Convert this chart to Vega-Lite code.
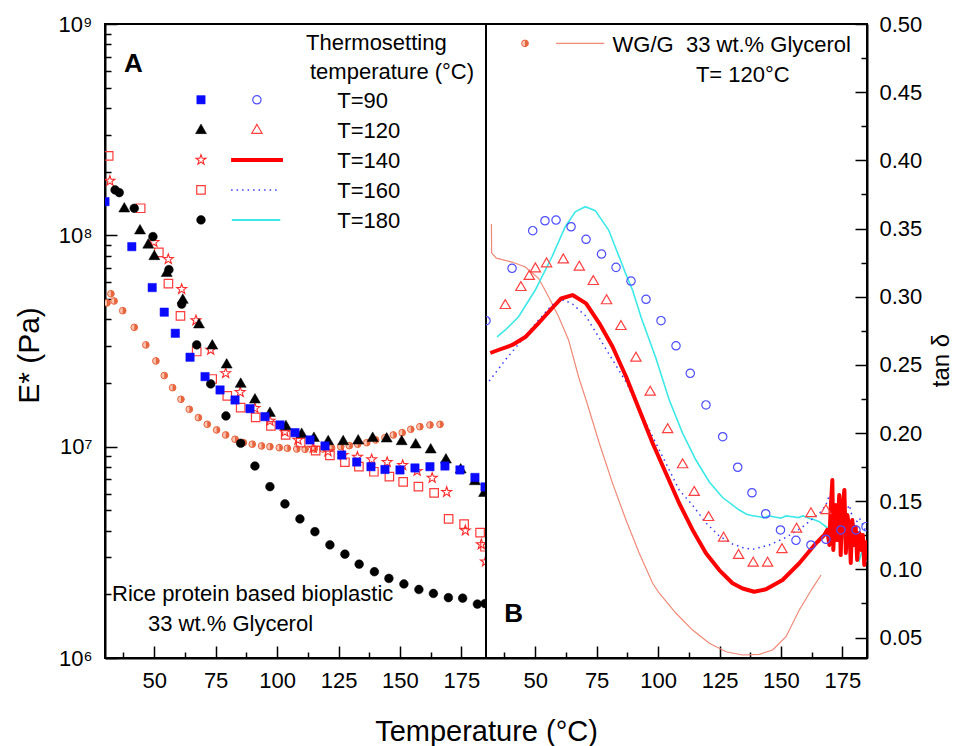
{
"$schema":"https://vega.github.io/schema/vega-lite/v6.json",
"background":"white",
"padding":{"left":13,"top":12,"right":0,"bottom":0},
"spacing":0,
"bounds":"flush",
"config":{
 "view":{"stroke":"black","strokeWidth":2,"fill":"white"},
 "font":"Liberation Sans",
 "axis":{"labelFont":"Liberation Sans","labelFontSize":22,"labelColor":"black","tickColor":"black","tickWidth":1.5,"domainColor":"black","domainWidth":2,"grid":false,"titleFont":"Liberation Sans","titleFontWeight":"normal","titleColor":"black","labelOverlap":false,"labelFlush":false},
 "text":{"font":"Liberation Sans","fontSize":22,"color":"black"}
},
"datasets":{
 "eA":[
  {"s":"T=90","T":30.0,"E":1.444e8},{"s":"T=90","T":40.9,"E":8.84e7},{"s":"T=90","T":49.2,"E":5.66e7},{"s":"T=90","T":54.1,"E":4.33e7},{"s":"T=90","T":58.6,"E":3.44e7},{"s":"T=90","T":64.6,"E":2.65e7},{"s":"T=90","T":70.7,"E":2.145e7},{"s":"T=90","T":76.8,"E":1.855e7},{"s":"T=90","T":82.9,"E":1.663e7},{"s":"T=90","T":89.0,"E":1.513e7},{"s":"T=90","T":95.1,"E":1.387e7},{"s":"T=90","T":101.2,"E":1.267e7},{"s":"T=90","T":107.3,"E":1.165e7},{"s":"T=90","T":113.4,"E":1.076e7},{"s":"T=90","T":119.5,"E":1.008e7},{"s":"T=90","T":126.3,"E":9.13e6},{"s":"T=90","T":132.4,"E":8.46e6},{"s":"T=90","T":138.2,"E":8.04e6},{"s":"T=90","T":143.9,"E":7.8e6},{"s":"T=90","T":150.0,"E":7.76e6},{"s":"T=90","T":156.1,"E":7.93e6},{"s":"T=90","T":162.2,"E":8.04e6},{"s":"T=90","T":168.3,"E":8.1e6},{"s":"T=90","T":174.4,"E":7.76e6},{"s":"T=90","T":180.5,"E":7.15e6},{"s":"T=90","T":184.6,"E":6.45e6},
  {"s":"T=120","T":37.85,"E":1.358e8},{"s":"T=120","T":44.24,"E":1.069e8},{"s":"T=120","T":47.6,"E":9.16e7},{"s":"T=120","T":50.06,"E":8.08e7},{"s":"T=120","T":55.1,"E":6.73e7},{"s":"T=120","T":61.65,"E":5.02e7},{"s":"T=120","T":68.24,"E":3.84e7},{"s":"T=120","T":73.65,"E":3.05e7},{"s":"T=120","T":79.5,"E":2.48e7},{"s":"T=120","T":85.2,"E":2.01e7},{"s":"T=120","T":91.0,"E":1.694e7},{"s":"T=120","T":97.1,"E":1.464e7},{"s":"T=120","T":103.6,"E":1.267e7},{"s":"T=120","T":110.0,"E":1.165e7},{"s":"T=120","T":115.0,"E":1.115e7},{"s":"T=120","T":120.8,"E":1.076e7},{"s":"T=120","T":126.9,"E":1.076e7},{"s":"T=120","T":133.0,"E":1.084e7},{"s":"T=120","T":138.9,"E":1.115e7},{"s":"T=120","T":144.6,"E":1.108e7},{"s":"T=120","T":150.7,"E":1.076e7},{"s":"T=120","T":156.4,"E":1.038e7},{"s":"T=120","T":162.5,"E":9.83e6},{"s":"T=120","T":168.7,"E":8.81e6},{"s":"T=120","T":174.7,"E":7.9e6},{"s":"T=120","T":180.5,"E":6.96e6},{"s":"T=120","T":184.2,"E":6.12e6},
  {"s":"T=140","T":32.0,"E":1.809e8},{"s":"T=140","T":49.9,"E":9.28e7},{"s":"T=140","T":55.75,"E":7.71e7},{"s":"T=140","T":61.2,"E":5.56e7},{"s":"T=140","T":67.0,"E":3.96e7},{"s":"T=140","T":73.0,"E":2.87e7},{"s":"T=140","T":79.1,"E":2.225e7},{"s":"T=140","T":85.0,"E":1.81e7},{"s":"T=140","T":91.0,"E":1.52e7},{"s":"T=140","T":97.1,"E":1.323e7},{"s":"T=140","T":103.2,"E":1.174e7},{"s":"T=140","T":108.5,"E":1.076e7},{"s":"T=140","T":114.7,"E":9.86e6},{"s":"T=140","T":120.7,"E":9.49e6},{"s":"T=140","T":126.9,"E":9.13e6},{"s":"T=140","T":132.7,"E":8.94e6},{"s":"T=140","T":138.5,"E":8.7e6},{"s":"T=140","T":144.8,"E":8.44e6},{"s":"T=140","T":151.1,"E":8.17e6},{"s":"T=140","T":157.0,"E":7.67e6},{"s":"T=140","T":163.1,"E":7.11e6},{"s":"T=140","T":169.0,"E":6.1e6},{"s":"T=140","T":176.6,"E":4.01e6},{"s":"T=140","T":183.1,"E":3.45e6},{"s":"T=140","T":184.8,"E":2.86e6},
  {"s":"T=160","T":31.5,"E":2.376e8},{"s":"T=160","T":44.5,"E":1.343e8},{"s":"T=160","T":51.9,"E":8.3e7},{"s":"T=160","T":55.8,"E":5.91e7},{"s":"T=160","T":60.7,"E":4.16e7},{"s":"T=160","T":67.3,"E":2.82e7},{"s":"T=160","T":73.6,"E":2.09e7},{"s":"T=160","T":79.75,"E":1.738e7},{"s":"T=160","T":85.2,"E":1.53e7},{"s":"T=160","T":91.3,"E":1.377e7},{"s":"T=160","T":97.5,"E":1.253e7},{"s":"T=160","T":103.5,"E":1.136e7},{"s":"T=160","T":109.6,"E":1.044e7},{"s":"T=160","T":115.7,"E":9.58e6},{"s":"T=160","T":121.5,"E":9.09e6},{"s":"T=160","T":127.6,"E":8.44e6},{"s":"T=160","T":133.3,"E":8.04e6},{"s":"T=160","T":139.4,"E":7.61e6},{"s":"T=160","T":145.7,"E":7.21e6},{"s":"T=160","T":151.3,"E":6.81e6},{"s":"T=160","T":157.5,"E":6.47e6},{"s":"T=160","T":163.9,"E":6.04e6},{"s":"T=160","T":169.8,"E":4.55e6},{"s":"T=160","T":176.1,"E":4.3e6},{"s":"T=160","T":182.6,"E":3.92e6},{"s":"T=160","T":184.6,"E":3.36e6},
  {"s":"T=180","T":34.1,"E":1.64e8},{"s":"T=180","T":35.8,"E":1.593e8},{"s":"T=180","T":41.9,"E":1.343e8},{"s":"T=180","T":49.5,"E":9.86e7},{"s":"T=180","T":56.0,"E":6.88e7},{"s":"T=180","T":61.2,"E":4.73e7},{"s":"T=180","T":67.3,"E":3.03e7},{"s":"T=180","T":73.0,"E":1.981e7},{"s":"T=180","T":79.2,"E":1.397e7},{"s":"T=180","T":85.2,"E":1.038e7},{"s":"T=180","T":91.0,"E":8.1e6},{"s":"T=180","T":97.1,"E":6.47e6},{"s":"T=180","T":103.2,"E":5.36e6},{"s":"T=180","T":109.3,"E":4.55e6},{"s":"T=180","T":115.4,"E":3.96e6},{"s":"T=180","T":121.5,"E":3.43e6},{"s":"T=180","T":127.6,"E":3.1e6},{"s":"T=180","T":133.4,"E":2.78e6},{"s":"T=180","T":139.6,"E":2.56e6},{"s":"T=180","T":145.5,"E":2.38e6},{"s":"T=180","T":151.6,"E":2.24e6},{"s":"T=180","T":157.7,"E":2.11e6},{"s":"T=180","T":163.6,"E":2.02e6},{"s":"T=180","T":169.7,"E":1.93e6},{"s":"T=180","T":175.5,"E":1.92e6},{"s":"T=180","T":181.5,"E":1.8e6},{"s":"T=180","T":184.6,"E":1.81e6},
  {"s":"WG/G","T":30.8,"E":4.79e7},{"s":"WG/G","T":32.4,"E":5.29e7},{"s":"WG/G","T":33.7,"E":4.89e7},{"s":"WG/G","T":37.2,"E":4.4e7},{"s":"WG/G","T":41.9,"E":3.67e7},{"s":"WG/G","T":46.6,"E":3.03e7},{"s":"WG/G","T":50.7,"E":2.545e7},{"s":"WG/G","T":54.1,"E":2.17e7},{"s":"WG/G","T":57.5,"E":1.902e7},{"s":"WG/G","T":60.9,"E":1.676e7},{"s":"WG/G","T":64.3,"E":1.503e7},{"s":"WG/G","T":68.0,"E":1.372e7},{"s":"WG/G","T":71.6,"E":1.276e7},{"s":"WG/G","T":75.4,"E":1.2e7},{"s":"WG/G","T":79.1,"E":1.136e7},{"s":"WG/G","T":82.9,"E":1.084e7},{"s":"WG/G","T":86.3,"E":1.044e7},{"s":"WG/G","T":89.9,"E":1.027e7},{"s":"WG/G","T":93.7,"E":1.008e7},{"s":"WG/G","T":97.1,"E":1.0e7},{"s":"WG/G","T":100.9,"E":9.89e6},{"s":"WG/G","T":104.2,"E":9.83e6},{"s":"WG/G","T":108.0,"E":9.75e6},{"s":"WG/G","T":111.4,"E":9.72e6},{"s":"WG/G","T":115.1,"E":9.75e6},{"s":"WG/G","T":118.6,"E":9.75e6},{"s":"WG/G","T":122.2,"E":9.86e6},{"s":"WG/G","T":125.9,"E":1.0e7},{"s":"WG/G","T":129.4,"E":1.011e7},{"s":"WG/G","T":132.8,"E":1.027e7},{"s":"WG/G","T":136.5,"E":1.044e7},{"s":"WG/G","T":140.1,"E":1.076e7},{"s":"WG/G","T":143.9,"E":1.103e7},{"s":"WG/G","T":147.3,"E":1.136e7},{"s":"WG/G","T":150.9,"E":1.165e7},{"s":"WG/G","T":154.4,"E":1.209e7},{"s":"WG/G","T":158.1,"E":1.243e7},{"s":"WG/G","T":162.2,"E":1.267e7},{"s":"WG/G","T":166.3,"E":1.276e7}
 ],
 "legS":[{"s":"T=90","T":69.05,"E":4.38e8},{"s":"T=120","T":69.05,"E":3.19e8},{"s":"T=140","T":69.05,"E":2.275e8},{"s":"T=160","T":69.05,"E":1.64e8},{"s":"T=180","T":69.05,"E":1.183e8}],
 "legT":[{"s":"T=90","T":91.8,"E":4.38e8},{"s":"T=120","T":91.8,"E":3.19e8}],
 "legL":[{"s":"T=140","T":81.3,"E":2.275e8},{"s":"T=140","T":102.4,"E":2.275e8},{"s":"T=160","T":81.3,"E":1.64e8},{"s":"T=160","T":100.9,"E":1.64e8},{"s":"T=180","T":81.6,"E":1.183e8},{"s":"T=180","T":101.3,"E":1.183e8}],
 "txtA":[{"label":"Thermosetting","T":111.8,"E":7.54e8},{"label":"temperature (°C)","T":113.4,"E":5.495e8},{"label":"T=90","T":124.5,"E":3.995e8},{"label":"T=120","T":124.5,"E":2.881e8},{"label":"T=140","T":124.5,"E":2.077e8},{"label":"T=160","T":124.5,"E":1.498e8},{"label":"T=180","T":124.5,"E":1.08e8},{"label":"Rice protein based bioplastic","T":32.85,"E":1.862e6},{"label":"33 wt.% Glycerol","T":47.5,"E":1.342e6}],
 "lblA":[{"label":"A","T":37.73,"E":5.953e8}],
 "tB":[
  {"s":"T=90","T":30.0,"tan":0.2824},{"s":"T=90","T":40.6,"tan":0.3208},{"s":"T=90","T":49.0,"tan":0.3484},{"s":"T=90","T":54.0,"tan":0.3557},{"s":"T=90","T":58.5,"tan":0.3562},{"s":"T=90","T":64.6,"tan":0.3513},{"s":"T=90","T":70.7,"tan":0.3421},{"s":"T=90","T":77.0,"tan":0.3313},{"s":"T=90","T":82.9,"tan":0.3215},{"s":"T=90","T":89.0,"tan":0.3115},{"s":"T=90","T":95.1,"tan":0.2981},{"s":"T=90","T":101.2,"tan":0.2824},{"s":"T=90","T":107.3,"tan":0.264},{"s":"T=90","T":113.1,"tan":0.2438},{"s":"T=90","T":119.5,"tan":0.2206},{"s":"T=90","T":126.3,"tan":0.1973},{"s":"T=90","T":132.4,"tan":0.1749},{"s":"T=90","T":138.2,"tan":0.1562},{"s":"T=90","T":143.8,"tan":0.1408},{"s":"T=90","T":149.8,"tan":0.1289},{"s":"T=90","T":156.1,"tan":0.1213},{"s":"T=90","T":162.2,"tan":0.1179},{"s":"T=90","T":168.3,"tan":0.1221},{"s":"T=90","T":174.4,"tan":0.1289},{"s":"T=90","T":180.5,"tan":0.1289},{"s":"T=90","T":184.6,"tan":0.1313},
  {"s":"T=120","T":37.85,"tan":0.2946},{"s":"T=120","T":44.2,"tan":0.3078},{"s":"T=120","T":47.6,"tan":0.3159},{"s":"T=120","T":50.1,"tan":0.3215},{"s":"T=120","T":54.65,"tan":0.3252},{"s":"T=120","T":61.45,"tan":0.3281},{"s":"T=120","T":67.95,"tan":0.3227},{"s":"T=120","T":73.65,"tan":0.3122},{"s":"T=120","T":79.05,"tan":0.2981},{"s":"T=120","T":84.9,"tan":0.2792},{"s":"T=120","T":91.0,"tan":0.256},{"s":"T=120","T":96.8,"tan":0.231},{"s":"T=120","T":103.9,"tan":0.2035},{"s":"T=120","T":110.0,"tan":0.1778},{"s":"T=120","T":114.7,"tan":0.1575},{"s":"T=120","T":120.55,"tan":0.1391},{"s":"T=120","T":126.65,"tan":0.124},{"s":"T=120","T":132.75,"tan":0.1113},{"s":"T=120","T":138.7,"tan":0.1056},{"s":"T=120","T":144.55,"tan":0.1056},{"s":"T=120","T":150.4,"tan":0.1155},{"s":"T=120","T":156.35,"tan":0.1306},{"s":"T=120","T":162.2,"tan":0.1419},{"s":"T=120","T":168.3,"tan":0.1441}
 ],
 "lB":[
  {"s":"T=140","T":31.75,"tan":0.2587},{"s":"T=140","T":35.0,"tan":0.2609},{"s":"T=140","T":40.7,"tan":0.2646},{"s":"T=140","T":46.0,"tan":0.2704},{"s":"T=140","T":51.3,"tan":0.2805},{"s":"T=140","T":56.85,"tan":0.2915},{"s":"T=140","T":60.6,"tan":0.2987},{"s":"T=140","T":65.2,"tan":0.3012},{"s":"T=140","T":70.7,"tan":0.2951},{"s":"T=140","T":76.1,"tan":0.2805},{"s":"T=140","T":81.5,"tan":0.2633},{"s":"T=140","T":87.0,"tan":0.2413},{"s":"T=140","T":92.4,"tan":0.2169},{"s":"T=140","T":97.8,"tan":0.1925},{"s":"T=140","T":103.2,"tan":0.1705},{"s":"T=140","T":108.6,"tan":0.1485},{"s":"T=140","T":114.05,"tan":0.1289},{"s":"T=140","T":119.5,"tan":0.1118},{"s":"T=140","T":124.9,"tan":0.0995},{"s":"T=140","T":130.3,"tan":0.0898},{"s":"T=140","T":134.4,"tan":0.086},{"s":"T=140","T":139.1,"tan":0.0836},{"s":"T=140","T":143.9,"tan":0.0854},{"s":"T=140","T":150.65,"tan":0.0922},{"s":"T=140","T":157.45,"tan":0.1045},{"s":"T=140","T":164.25,"tan":0.1191},{"s":"T=140","T":167.6,"tan":0.1252},{"s":"T=140","T":168.8,"tan":0.1289},{"s":"T=140","T":169.7,"tan":0.1179},{"s":"T=140","T":170.1,"tan":0.1399},{"s":"T=140","T":170.9,"tan":0.1655},{"s":"T=140","T":171.3,"tan":0.1142},{"s":"T=140","T":172.1,"tan":0.1472},{"s":"T=140","T":172.9,"tan":0.1215},{"s":"T=140","T":173.7,"tan":0.1545},{"s":"T=140","T":174.3,"tan":0.1105},{"s":"T=140","T":174.9,"tan":0.1435},{"s":"T=140","T":175.8,"tan":0.1582},{"s":"T=140","T":176.4,"tan":0.112},{"s":"T=140","T":177.0,"tan":0.1399},{"s":"T=140","T":177.8,"tan":0.1303},{"s":"T=140","T":178.4,"tan":0.1047},{"s":"T=140","T":179.0,"tan":0.1362},{"s":"T=140","T":179.8,"tan":0.1179},{"s":"T=140","T":180.4,"tan":0.1311},{"s":"T=140","T":181.0,"tan":0.1069},{"s":"T=140","T":181.9,"tan":0.1267},{"s":"T=140","T":182.7,"tan":0.1142},{"s":"T=140","T":183.3,"tan":0.1252},{"s":"T=140","T":183.9,"tan":0.1032},{"s":"T=140","T":184.6,"tan":0.1215},
  {"s":"T=160","T":31.3,"tan":0.2381},{"s":"T=160","T":37.85,"tan":0.2536},{"s":"T=160","T":44.65,"tan":0.2682},{"s":"T=160","T":51.4,"tan":0.2829},{"s":"T=160","T":56.85,"tan":0.2939},{"s":"T=160","T":61.6,"tan":0.2976},{"s":"T=160","T":65.2,"tan":0.2946},{"s":"T=160","T":70.6,"tan":0.2858},{"s":"T=160","T":76.1,"tan":0.2697},{"s":"T=160","T":81.5,"tan":0.2536},{"s":"T=160","T":87.0,"tan":0.2374},{"s":"T=160","T":92.4,"tan":0.2169},{"s":"T=160","T":97.8,"tan":0.1973},{"s":"T=160","T":103.2,"tan":0.1778},{"s":"T=160","T":108.6,"tan":0.1582},{"s":"T=160","T":114.05,"tan":0.147},{"s":"T=160","T":119.5,"tan":0.134},{"s":"T=160","T":124.9,"tan":0.1245},{"s":"T=160","T":130.3,"tan":0.1186},{"s":"T=160","T":134.4,"tan":0.116},{"s":"T=160","T":138.45,"tan":0.1147},{"s":"T=160","T":145.25,"tan":0.1179},{"s":"T=160","T":152.05,"tan":0.1234},{"s":"T=160","T":158.8,"tan":0.1311},{"s":"T=160","T":165.6,"tan":0.1411},{"s":"T=160","T":168.3,"tan":0.1472},{"s":"T=160","T":169.7,"tan":0.1545},{"s":"T=160","T":171.7,"tan":0.1435},{"s":"T=160","T":173.7,"tan":0.1509},{"s":"T=160","T":175.8,"tan":0.1399},{"s":"T=160","T":177.8,"tan":0.1472},{"s":"T=160","T":179.8,"tan":0.1325},{"s":"T=160","T":181.9,"tan":0.1377},{"s":"T=160","T":184.3,"tan":0.1289},
  {"s":"T=180","T":34.5,"tan":0.2706},{"s":"T=180","T":37.85,"tan":0.2756},{"s":"T=180","T":43.25,"tan":0.2853},{"s":"T=180","T":50.05,"tan":0.3049},{"s":"T=180","T":56.85,"tan":0.3293},{"s":"T=180","T":62.25,"tan":0.3513},{"s":"T=180","T":66.3,"tan":0.3623},{"s":"T=180","T":70.4,"tan":0.366},{"s":"T=180","T":74.45,"tan":0.3631},{"s":"T=180","T":79.9,"tan":0.3489},{"s":"T=180","T":86.65,"tan":0.3178},{"s":"T=180","T":89.6,"tan":0.3049},{"s":"T=180","T":93.2,"tan":0.2844},{"s":"T=180","T":99.1,"tan":0.255},{"s":"T=180","T":104.55,"tan":0.2242},{"s":"T=180","T":110.0,"tan":0.1998},{"s":"T=180","T":115.4,"tan":0.1802},{"s":"T=180","T":120.85,"tan":0.1641},{"s":"T=180","T":126.25,"tan":0.1527},{"s":"T=180","T":133.05,"tan":0.1435},{"s":"T=180","T":136.0,"tan":0.1405},{"s":"T=180","T":138.0,"tan":0.1395},{"s":"T=180","T":141.2,"tan":0.1386},{"s":"T=180","T":143.0,"tan":0.1378},{"s":"T=180","T":145.0,"tan":0.1392},{"s":"T=180","T":148.0,"tan":0.1382},{"s":"T=180","T":150.0,"tan":0.1376},{"s":"T=180","T":152.0,"tan":0.1392},{"s":"T=180","T":154.7,"tan":0.1386},{"s":"T=180","T":157.0,"tan":0.138},{"s":"T=180","T":159.0,"tan":0.1392},{"s":"T=180","T":161.5,"tan":0.1375},{"s":"T=180","T":163.0,"tan":0.1368},{"s":"T=180","T":165.6,"tan":0.135},{"s":"T=180","T":168.3,"tan":0.1313},{"s":"T=180","T":170.9,"tan":0.1289},{"s":"T=180","T":173.0,"tan":0.1347},{"s":"T=180","T":174.5,"tan":0.1215},{"s":"T=180","T":176.45,"tan":0.1252},{"s":"T=180","T":178.2,"tan":0.1142},{"s":"T=180","T":179.8,"tan":0.1215},{"s":"T=180","T":181.9,"tan":0.1069},{"s":"T=180","T":183.1,"tan":0.1142},{"s":"T=180","T":184.6,"tan":0.1054},
  {"s":"WG/G","T":32.2,"tan":0.3533},{"s":"WG/G","T":32.3,"tan":0.332},{"s":"WG/G","T":34.2,"tan":0.3283},{"s":"WG/G","T":40.6,"tan":0.3254},{"s":"WG/G","T":46.0,"tan":0.3218},{"s":"WG/G","T":51.4,"tan":0.3135},{"s":"WG/G","T":55.45,"tan":0.3},{"s":"WG/G","T":59.55,"tan":0.2853},{"s":"WG/G","T":63.6,"tan":0.2682},{"s":"WG/G","T":67.65,"tan":0.2413},{"s":"WG/G","T":71.1,"tan":0.222},{"s":"WG/G","T":76.1,"tan":0.1925},{"s":"WG/G","T":81.5,"tan":0.1631},{"s":"WG/G","T":86.95,"tan":0.1362},{"s":"WG/G","T":92.35,"tan":0.1118},{"s":"WG/G","T":97.8,"tan":0.0898},{"s":"WG/G","T":100.5,"tan":0.0825},{"s":"WG/G","T":107.3,"tan":0.0678},{"s":"WG/G","T":114.05,"tan":0.0555},{"s":"WG/G","T":120.85,"tan":0.0458},{"s":"WG/G","T":127.65,"tan":0.0396},{"s":"WG/G","T":134.4,"tan":0.0372},{"s":"WG/G","T":141.2,"tan":0.0377},{"s":"WG/G","T":146.6,"tan":0.0409},{"s":"WG/G","T":152.05,"tan":0.0506},{"s":"WG/G","T":157.45,"tan":0.0702},{"s":"WG/G","T":162.85,"tan":0.0863},{"s":"WG/G","T":166.3,"tan":0.0959}
 ],
 "legB":[{"s":"WG/G","T":45.87,"tan":0.4858}],
 "legBL":[{"s":"WG/G","T":58.5,"tan":0.4858},{"s":"WG/G","T":78.1,"tan":0.4858}],
 "txtB":[{"label":"WG/G\u00a0 33 wt.% Glycerol","T":81.5,"tan":0.4797},{"label":"T= 120°C","T":115.4,"tan":0.4577}],
 "lblB":[{"label":"B","T":37.45,"tan":0.0616}]
},
"hconcat":[
 {
  "width":381,"height":634,
  "encoding":{
   "x":{"field":"T","type":"quantitative","scale":{"domain":[30,185],"nice":false,"zero":false},
    "axis":{"values":[37.5,50,62.5,75,87.5,100,112.5,125,137.5,150,162.5,175],"labelExpr":"datum.value % 25 === 0 ? datum.label : ''","tickSize":{"condition":{"test":"datum.value % 25 === 0","value":-12},"value":-6},"labelPadding":24,"title":"Temperature (°C)","titleX":381,"titleFontSize":29,"titlePadding":20}},
   "y":{"field":"E","type":"quantitative","scale":{"type":"log","domain":[1e6,1e9],"nice":false},
    "axis":{"values":[1e6,2e6,3e6,4e6,5e6,6e6,7e6,8e6,9e6,1e7,2e7,3e7,4e7,5e7,6e7,7e7,8e7,9e7,1e8,2e8,3e8,4e8,5e8,6e8,7e8,8e8,9e8,1e9],
     "labelExpr":"abs(log(datum.value)/LN10-round(log(datum.value)/LN10))<0.001 ? '10' + ['⁰','¹','²','³','⁴','⁵','⁶','⁷','⁸','⁹'][round(log(datum.value)/LN10)] : ''",
     "tickSize":{"condition":{"test":"abs(log(datum.value)/LN10-round(log(datum.value)/LN10))<0.001","value":-12},"value":-6},
     "labelPadding":25,"title":"E* (Pa)","titleFontSize":30,"titlePadding":14,"titleY":331}}
  },
  "layer":[
   {"data":{"name":"eA"},"transform":[{"filter":"datum.s==='WG/G'"}],"mark":{"type":"point","shape":"circle","filled":true,"fill":"#f9c4b2","stroke":"#e8663f","strokeWidth":1,"size":45,"opacity":1,"clip":true}},
   {"data":{"name":"eA"},"transform":[{"filter":"datum.s==='WG/G'"}],"mark":{"type":"point","shape":"M0,-1A1,1,0,0,1,0,1Z","filled":true,"fill":"#e8663f","strokeWidth":0,"size":45,"opacity":1,"clip":true}},
   {"data":{"name":"eA"},"transform":[{"filter":"datum.s==='T=160'"}],"mark":{"type":"point","shape":"square","filled":false,"stroke":"#ff3b3b","strokeWidth":1.2,"size":72,"opacity":1,"clip":true}},
   {"data":{"name":"eA"},"transform":[{"filter":"datum.s==='T=140'"}],"mark":{"type":"point","shape":"M0,-1L0.235,-0.324L0.951,-0.309L0.38,0.124L0.588,0.809L0,0.4L-0.588,0.809L-0.38,0.124L-0.951,-0.309L-0.235,-0.324Z","filled":false,"stroke":"#ff2a2a","strokeWidth":1.1,"size":110,"opacity":1,"clip":true}},
   {"data":{"name":"eA"},"transform":[{"filter":"datum.s==='T=180'"}],"mark":{"type":"point","shape":"circle","filled":true,"fill":"#000000","stroke":"#000000","strokeWidth":0.5,"size":76,"opacity":1,"clip":true}},
   {"data":{"name":"eA"},"transform":[{"filter":"datum.s==='T=120'"}],"mark":{"type":"point","shape":"triangle-up","filled":true,"fill":"#000000","stroke":"#000000","strokeWidth":0.5,"size":121,"opacity":1,"clip":true}},
   {"data":{"name":"eA"},"transform":[{"filter":"datum.s==='T=90'"}],"mark":{"type":"point","shape":"square","filled":true,"fill":"#0a0aff","stroke":"#0a0aff","strokeWidth":0.5,"size":70,"opacity":1,"clip":true}},
   {"data":{"name":"legS"},"transform":[{"filter":"datum.s==='T=90'"}],"mark":{"type":"point","shape":"square","filled":true,"fill":"#0a0aff","stroke":"#0a0aff","strokeWidth":0.5,"size":70,"opacity":1}},
   {"data":{"name":"legS"},"transform":[{"filter":"datum.s==='T=120'"}],"mark":{"type":"point","shape":"triangle-up","filled":true,"fill":"#000000","stroke":"#000000","strokeWidth":0.5,"size":121,"opacity":1}},
   {"data":{"name":"legS"},"transform":[{"filter":"datum.s==='T=140'"}],"mark":{"type":"point","shape":"M0,-1L0.235,-0.324L0.951,-0.309L0.38,0.124L0.588,0.809L0,0.4L-0.588,0.809L-0.38,0.124L-0.951,-0.309L-0.235,-0.324Z","filled":false,"stroke":"#ff2a2a","strokeWidth":1.1,"size":110,"opacity":1}},
   {"data":{"name":"legS"},"transform":[{"filter":"datum.s==='T=160'"}],"mark":{"type":"point","shape":"square","filled":false,"stroke":"#ff3b3b","strokeWidth":1.2,"size":72,"opacity":1}},
   {"data":{"name":"legS"},"transform":[{"filter":"datum.s==='T=180'"}],"mark":{"type":"point","shape":"circle","filled":true,"fill":"#000000","stroke":"#000000","strokeWidth":0.5,"size":76,"opacity":1}},
   {"data":{"name":"legT"},"transform":[{"filter":"datum.s==='T=90'"}],"mark":{"type":"point","shape":"circle","filled":false,"stroke":"#4d4dff","strokeWidth":1.2,"size":70,"opacity":1}},
   {"data":{"name":"legT"},"transform":[{"filter":"datum.s==='T=120'"}],"mark":{"type":"point","shape":"triangle-up","filled":false,"stroke":"#ff4040","strokeWidth":1.2,"size":106,"opacity":1}},
   {"data":{"name":"legL"},"transform":[{"filter":"datum.s==='T=140'"}],"mark":{"type":"line","stroke":"#ff0000","strokeWidth":4}},
   {"data":{"name":"legL"},"transform":[{"filter":"datum.s==='T=160'"}],"mark":{"type":"line","stroke":"#3a3aff","strokeWidth":1.5,"strokeDash":[1.5,4]}},
   {"data":{"name":"legL"},"transform":[{"filter":"datum.s==='T=180'"}],"mark":{"type":"line","stroke":"#3de8e8","strokeWidth":2}},
   {"data":{"name":"txtA"},"mark":{"type":"text","align":"left","baseline":"alphabetic","fontSize":22,"font":"Liberation Sans","color":"black"},"encoding":{"text":{"field":"label","type":"nominal"}}},
   {"data":{"name":"lblA"},"mark":{"type":"text","align":"left","baseline":"alphabetic","fontSize":26,"fontWeight":"bold","font":"Liberation Sans","color":"black"},"encoding":{"text":{"field":"label","type":"nominal"}}}
  ]
 },
 {
  "width":381,"height":634,
  "encoding":{
   "x":{"field":"T","type":"quantitative","scale":{"domain":[30,185],"nice":false,"zero":false},
    "axis":{"values":[37.5,50,62.5,75,87.5,100,112.5,125,137.5,150,162.5,175],"labelExpr":"datum.value % 25 === 0 ? datum.label : ''","tickSize":{"condition":{"test":"datum.value % 25 === 0","value":-12},"value":-6},"labelPadding":24,"title":null}},
   "y":{"field":"tan","type":"quantitative","scale":{"domain":[0.035,0.5],"nice":false,"zero":false},
    "axis":{"orient":"right","values":[0.05,0.075,0.1,0.125,0.15,0.175,0.2,0.225,0.25,0.275,0.3,0.325,0.35,0.375,0.4,0.425,0.45,0.475,0.5],
     "labelExpr":"abs(datum.value*20-round(datum.value*20))<0.001 ? format(datum.value,'.2f') : ''",
     "tickSize":{"condition":{"test":"abs(datum.value*20-round(datum.value*20))<0.001","value":-12},"value":-6},
     "labelPadding":24,"title":"tan δ","titleFontSize":24,"titleAngle":270,"titlePadding":32,"titleY":336}}
  },
  "layer":[
   {"data":{"name":"lB"},"transform":[{"filter":"datum.s==='WG/G'"}],"mark":{"type":"line","stroke":"#f08a78","strokeWidth":1.2,"clip":true}},
   {"data":{"name":"lB"},"transform":[{"filter":"datum.s==='T=180'"}],"mark":{"type":"line","stroke":"#3de8e8","strokeWidth":1.6,"clip":true}},
   {"data":{"name":"lB"},"transform":[{"filter":"datum.s==='T=160'"}],"mark":{"type":"line","stroke":"#3a3aff","strokeWidth":1.5,"strokeDash":[1.5,4],"clip":true}},
   {"data":{"name":"lB"},"transform":[{"filter":"datum.s==='T=140'"}],"mark":{"type":"line","stroke":"#ff0000","strokeWidth":4,"strokeJoin":"round","clip":true}},
   {"data":{"name":"tB"},"transform":[{"filter":"datum.s==='T=90'"}],"mark":{"type":"point","shape":"circle","filled":false,"stroke":"#4d4dff","strokeWidth":1.2,"size":70,"opacity":1,"clip":true}},
   {"data":{"name":"tB"},"transform":[{"filter":"datum.s==='T=120'"}],"mark":{"type":"point","shape":"triangle-up","filled":false,"stroke":"#ff4040","strokeWidth":1.2,"size":106,"opacity":1,"clip":true}},
   {"data":{"name":"legBL"},"mark":{"type":"line","stroke":"#f08a78","strokeWidth":1.2}},
   {"data":{"name":"legB"},"mark":{"type":"point","shape":"circle","filled":true,"fill":"#f9c4b2","stroke":"#e8663f","strokeWidth":1,"size":45,"opacity":1}},
   {"data":{"name":"legB"},"mark":{"type":"point","shape":"M0,-1A1,1,0,0,1,0,1Z","filled":true,"fill":"#e8663f","strokeWidth":0,"size":45,"opacity":1}},
   {"data":{"name":"txtB"},"mark":{"type":"text","align":"left","baseline":"alphabetic","fontSize":22,"font":"Liberation Sans","color":"black"},"encoding":{"text":{"field":"label","type":"nominal"}}},
   {"data":{"name":"lblB"},"mark":{"type":"text","align":"left","baseline":"alphabetic","fontSize":26,"fontWeight":"bold","font":"Liberation Sans","color":"black"},"encoding":{"text":{"field":"label","type":"nominal"}}}
  ]
 }
]
}
